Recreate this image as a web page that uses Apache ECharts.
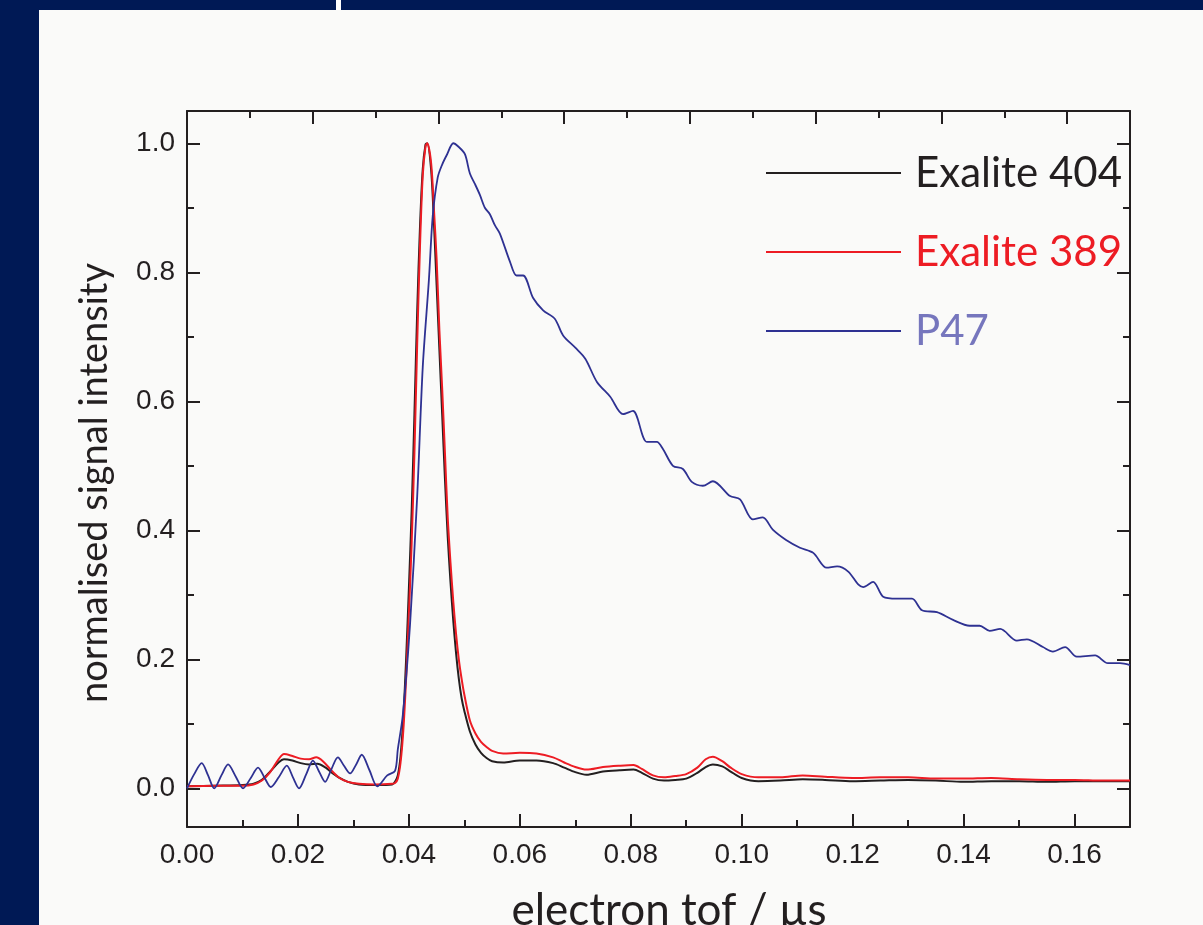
<!DOCTYPE html>
<html>
<head>
<meta charset="utf-8">
<title>electron tof</title>
<script src="https://cdn.jsdelivr.net/npm/echarts@6/dist/echarts.min.js"></script>
<style>
  html, body { margin: 0; padding: 0; background: #001955; }
  #chart { width: 1203px; height: 925px; }
</style>
</head>
<body>
<div id="chart"></div>
<script>
// electron tof (µs) and normalised signal
var exalite404Tof = [0, 0.005, 0.010, 0.012, 0.0135, 0.015, 0.0165, 0.0175, 0.019, 0.0205, 0.022, 0.0235, 0.025, 0.026, 0.0275, 0.029, 0.031, 0.034, 0.037, 0.0375, 0.038, 0.0385, 0.039, 0.0395, 0.040, 0.0405, 0.041, 0.0415, 0.042, 0.0425, 0.043, 0.0433, 0.044, 0.0445, 0.045, 0.0455, 0.046, 0.0465, 0.047, 0.0475, 0.048, 0.0485, 0.049, 0.0495, 0.050, 0.051, 0.052, 0.053, 0.054, 0.055, 0.057, 0.060, 0.063, 0.066, 0.068, 0.070, 0.072, 0.075, 0.078, 0.0805, 0.082, 0.084, 0.086, 0.088, 0.090, 0.092, 0.0935, 0.0948, 0.0965, 0.098, 0.100, 0.103, 0.107, 0.111, 0.115, 0.120, 0.125, 0.130, 0.135, 0.140, 0.145, 0.150, 0.155, 0.160, 0.165, 0.170];
var exalite404 = [0.003, 0.004, 0.005, 0.007, 0.013, 0.026, 0.040, 0.045, 0.043, 0.039, 0.037, 0.038, 0.032, 0.025, 0.016, 0.010, 0.006, 0.005, 0.006, 0.010, 0.02, 0.05, 0.11, 0.20, 0.31, 0.43, 0.58, 0.74, 0.87, 0.96, 0.998, 1.0, 0.96, 0.88, 0.78, 0.68, 0.58, 0.48, 0.39, 0.32, 0.26, 0.21, 0.17, 0.14, 0.12, 0.088, 0.068, 0.055, 0.047, 0.042, 0.040, 0.043, 0.043, 0.039, 0.032, 0.025, 0.021, 0.026, 0.028, 0.029, 0.024, 0.015, 0.012, 0.013, 0.015, 0.024, 0.033, 0.037, 0.034, 0.026, 0.016, 0.011, 0.012, 0.014, 0.013, 0.011, 0.012, 0.013, 0.012, 0.010, 0.011, 0.011, 0.010, 0.011, 0.011, 0.011];

var exalite389Tof = [0, 0.005, 0.010, 0.012, 0.0135, 0.015, 0.0165, 0.0175, 0.019, 0.0205, 0.022, 0.0233, 0.0245, 0.026, 0.0275, 0.029, 0.031, 0.034, 0.037, 0.0375, 0.038, 0.0385, 0.039, 0.0395, 0.040, 0.0405, 0.041, 0.0415, 0.042, 0.0425, 0.043, 0.0433, 0.044, 0.0445, 0.045, 0.0455, 0.046, 0.0465, 0.047, 0.0475, 0.048, 0.0485, 0.049, 0.0495, 0.050, 0.051, 0.052, 0.053, 0.054, 0.055, 0.057, 0.060, 0.063, 0.066, 0.068, 0.070, 0.072, 0.075, 0.078, 0.0805, 0.082, 0.084, 0.086, 0.088, 0.090, 0.092, 0.0935, 0.0948, 0.0965, 0.098, 0.100, 0.103, 0.107, 0.111, 0.115, 0.120, 0.125, 0.130, 0.135, 0.140, 0.145, 0.150, 0.155, 0.160, 0.165, 0.170];
var exalite389 = [0.003, 0.004, 0.004, 0.006, 0.012, 0.025, 0.045, 0.053, 0.050, 0.046, 0.045, 0.048, 0.042, 0.028, 0.016, 0.010, 0.007, 0.006, 0.007, 0.008, 0.015, 0.04, 0.09, 0.17, 0.27, 0.38, 0.52, 0.69, 0.84, 0.95, 0.995, 1.0, 0.97, 0.90, 0.82, 0.71, 0.62, 0.52, 0.42, 0.35, 0.29, 0.24, 0.20, 0.17, 0.145, 0.105, 0.085, 0.072, 0.064, 0.058, 0.054, 0.055, 0.054, 0.048, 0.040, 0.033, 0.029, 0.033, 0.035, 0.036, 0.030, 0.020, 0.017, 0.019, 0.022, 0.032, 0.045, 0.049, 0.042, 0.032, 0.022, 0.017, 0.017, 0.020, 0.018, 0.016, 0.017, 0.017, 0.015, 0.015, 0.016, 0.014, 0.013, 0.013, 0.012, 0.012];

var p47Tof = [0, 0.0013, 0.00265, 0.0038, 0.0049, 0.0062, 0.0074, 0.0088, 0.0101, 0.0115, 0.0128, 0.014, 0.0151, 0.0166, 0.018, 0.0191, 0.0202, 0.0215, 0.0227, 0.0238, 0.0249, 0.026, 0.0272, 0.0283, 0.0294, 0.0305, 0.0315, 0.0329, 0.0343, 0.0361, 0.0375, 0.038, 0.0389, 0.0402, 0.0415, 0.0425, 0.0436, 0.0443, 0.0452, 0.046, 0.0469, 0.048, 0.0489, 0.0501, 0.051, 0.0519, 0.0528, 0.0537, 0.0546, 0.0555, 0.0564, 0.0582, 0.0594, 0.0606, 0.0624, 0.0642, 0.0663, 0.0678, 0.070, 0.0718, 0.0739, 0.0763, 0.0786, 0.0804, 0.0829, 0.0847, 0.0858, 0.0876, 0.0894, 0.091, 0.093, 0.0948, 0.0979, 0.0997, 0.102, 0.1038, 0.1056, 0.108, 0.1105, 0.1129, 0.1153, 0.1172, 0.1192, 0.121, 0.1219, 0.1237, 0.1255, 0.128, 0.1307, 0.1325, 0.1352, 0.1381, 0.1411, 0.1429, 0.1447, 0.1466, 0.1496, 0.1514, 0.1543, 0.1561, 0.1583, 0.1604, 0.1637, 0.166, 0.1682, 0.170];
var p47 = [0.0, 0.022, 0.039, 0.020, 0.0, 0.020, 0.037, 0.018, 0.0, 0.016, 0.032, 0.016, 0.002, 0.018, 0.035, 0.017, 0.0, 0.022, 0.043, 0.026, 0.010, 0.029, 0.048, 0.035, 0.023, 0.037, 0.052, 0.028, 0.003, 0.020, 0.027, 0.06, 0.113, 0.253, 0.453, 0.653, 0.787, 0.887, 0.947, 0.967, 0.983, 1.0, 0.995, 0.983, 0.953, 0.937, 0.92, 0.90, 0.89, 0.873, 0.86, 0.817, 0.795, 0.795, 0.76, 0.741, 0.728, 0.702, 0.683, 0.666, 0.63, 0.607, 0.58, 0.585, 0.537, 0.537, 0.526, 0.50, 0.495, 0.475, 0.469, 0.476, 0.453, 0.448, 0.417, 0.42, 0.401, 0.385, 0.373, 0.365, 0.342, 0.344, 0.336, 0.316, 0.312, 0.320, 0.297, 0.294, 0.294, 0.276, 0.273, 0.261, 0.252, 0.252, 0.244, 0.247, 0.229, 0.231, 0.219, 0.212, 0.219, 0.204, 0.206, 0.194, 0.194, 0.191];

var seriesNames = ['Exalite 404', 'Exalite 389', 'P47'];
var seriesColors = ['#231f20', '#ed1c24', '#2e3192'];
var legendColors = ['#231f20', '#ed1c24', '#7676bd'];

var xMajor = [0, 0.02, 0.04, 0.06, 0.08, 0.10, 0.12, 0.14, 0.16];
var xMinor = [0.01, 0.03, 0.05, 0.07, 0.09, 0.11, 0.13, 0.15];
var topMajor = [2, 4, 6, 8, 10, 12, 14];
var topMinor = [1, 3, 5, 7, 9, 11, 13];
var yMajor = [0, 0.2, 0.4, 0.6, 0.8, 1.0];
var yMinor = [0.1, 0.3, 0.5, 0.7, 0.9];

function pairs(xs, ys) {
    var out = [];
    for (var i = 0; i < xs.length; i++) {
        out.push([xs[i], ys[i]]);
    }
    return out;
}

var ink = '#231f20';
var tickFont = { fontFamily: '"Liberation Sans Narrow", "Liberation Sans", Arial, sans-serif', fontSize: 28, color: ink };

function xAx(pos, min, max, ticks, len, showLine, labels) {
    return {
        type: 'value', position: pos, min: min, max: max,
        axisLine: { show: showLine, onZero: false, lineStyle: { color: ink, width: 2 } },
        axisTick: { show: true, inside: true, length: len, customValues: ticks, lineStyle: { color: ink, width: 2 } },
        axisLabel: labels ? Object.assign({ show: true, margin: 14, customValues: ticks, formatter: function (v) { return v.toFixed(2); } }, tickFont) : { show: false },
        splitLine: { show: false }
    };
}

function yAx(pos, ticks, len, showLine, labels) {
    return {
        type: 'value', position: pos, min: -0.06, max: 1.05,
        axisLine: { show: showLine, onZero: false, lineStyle: { color: ink, width: 2 } },
        axisTick: { show: true, inside: true, length: len, customValues: ticks, lineStyle: { color: ink, width: 2 } },
        axisLabel: labels ? Object.assign({ show: true, margin: 12, customValues: ticks, formatter: function (v) { return v.toFixed(1); } }, tickFont) : { show: false },
        splitLine: { show: false }
    };
}

var chart = echarts.init(document.getElementById('chart'));

var option = {
    backgroundColor: '#001955',
    animation: false,
    graphic: [
        { type: 'rect', z: -10, shape: { x: 39, y: 10, width: 1164, height: 915 }, style: { fill: '#fafaf9' } },
        { type: 'rect', z: -10, shape: { x: 336, y: 0, width: 5, height: 10 }, style: { fill: '#ffffff' } },
        {
            type: 'text', x: 95, y: 483, rotation: Math.PI / 2,
            style: { text: 'normalised signal intensity', x: 0, y: 0, align: 'center', verticalAlign: 'middle', font: '38px Lato, "Open Sans", sans-serif', fill: ink }
        },
        {
            type: 'text', x: 669, y: 911,
            style: { text: 'electron tof / µs', x: 0, y: 0, align: 'center', verticalAlign: 'middle', font: '44px Lato, "Open Sans", sans-serif', fill: ink }
        }
    ],
    grid: { left: 187, right: 73, top: 111, bottom: 98, containLabel: false },
    legend: {
        orient: 'vertical', left: 766, top: 152, padding: 0,
        icon: 'rect',
        itemWidth: 135, itemHeight: 2, itemGap: 37,
        data: seriesNames.map(function (n, i) {
            return { name: n, textStyle: { color: legendColors[i] } };
        }),
        textStyle: { fontFamily: 'Lato, "Open Sans", sans-serif', fontSize: 42, lineHeight: 42, padding: [0, 0, 0, 9] }
    },
    xAxis: [
        xAx('bottom', 0, 0.17, xMajor, 13, true, true),
        xAx('bottom', 0, 0.17, xMinor, 7, false, false),
        xAx('top', 0, 15, topMajor, 13, true, false),
        xAx('top', 0, 15, topMinor, 7, false, false)
    ],
    yAxis: [
        yAx('left', yMajor, 13, true, true),
        yAx('left', yMinor, 7, false, false),
        yAx('right', yMajor, 13, true, false),
        yAx('right', yMinor, 7, false, false)
    ],
    series: [
        { name: seriesNames[0], type: 'line', data: pairs(exalite404Tof, exalite404), symbol: 'none', smooth: 0.3, lineStyle: { color: seriesColors[0], width: 2 }, itemStyle: { color: seriesColors[0] } },
        { name: seriesNames[1], type: 'line', data: pairs(exalite389Tof, exalite389), symbol: 'none', smooth: 0.3, lineStyle: { color: seriesColors[1], width: 2 }, itemStyle: { color: seriesColors[1] } },
        { name: seriesNames[2], type: 'line', data: pairs(p47Tof, p47), symbol: 'none', smooth: 0.3, lineStyle: { color: seriesColors[2], width: 1.8 }, itemStyle: { color: seriesColors[2] } }
    ]
};

chart.setOption(option);
</script>
</body>
</html>
